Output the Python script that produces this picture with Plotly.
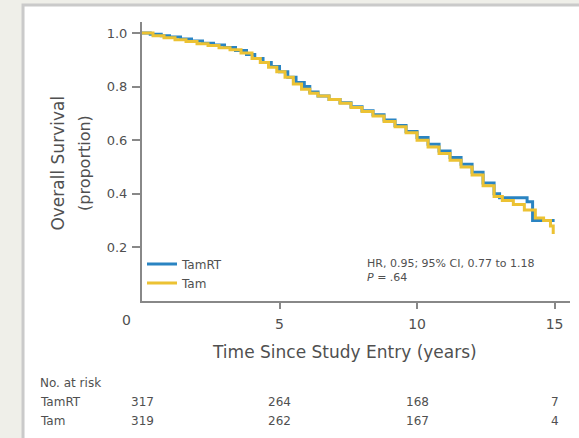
import plotly.graph_objects as go

# ---- data ----
tamrt_t = [0, 0.3, 0.7, 1.0, 1.4, 1.8, 2.2, 2.6, 3.0, 3.4, 3.8, 4.1, 4.4, 4.7, 5.0, 5.3, 5.6, 5.9,
           6.1, 6.4, 6.8, 7.2, 7.6, 8.0, 8.4, 8.8, 9.2, 9.6, 10.0, 10.4, 10.8, 11.2, 11.6, 12.0,
           12.4, 12.8, 13.0, 13.6, 14.0, 14.2, 14.5, 15.0]
tamrt_s = [1.0, 0.995, 0.99, 0.985, 0.978, 0.97, 0.962, 0.955, 0.946, 0.935, 0.92, 0.905, 0.89, 0.875,
           0.855, 0.835, 0.815, 0.80, 0.78, 0.765, 0.752, 0.74, 0.725, 0.71, 0.695, 0.675, 0.655,
           0.632, 0.61, 0.585, 0.56, 0.535, 0.51, 0.48, 0.44, 0.40, 0.385, 0.385, 0.37, 0.30, 0.30, 0.30]

tam_t = [0, 0.4, 0.8, 1.2, 1.6, 2.0, 2.4, 2.8, 3.2, 3.6, 4.0, 4.3, 4.6, 4.9, 5.2, 5.5, 5.8, 6.1,
         6.4, 6.8, 7.2, 7.6, 8.0, 8.4, 8.8, 9.2, 9.6, 10.0, 10.4, 10.8, 11.2, 11.6, 12.0, 12.4,
         12.8, 13.1, 13.5, 13.9, 14.3, 14.6, 14.85, 14.95]
tam_s = [1.0, 0.99, 0.982, 0.975, 0.968, 0.96, 0.953, 0.945, 0.937, 0.925, 0.905, 0.89, 0.872, 0.855,
         0.835, 0.81, 0.79, 0.775, 0.765, 0.752, 0.738, 0.722, 0.707, 0.69, 0.67, 0.65, 0.628, 0.60,
         0.575, 0.55, 0.525, 0.50, 0.47, 0.43, 0.39, 0.375, 0.36, 0.34, 0.31, 0.30, 0.28, 0.25]

x_ticks = [5, 10, 15]
x_tick_labels = ["5", "10", "15"]
zero_label = "0"
y_ticks = [0.2, 0.4, 0.6, 0.8, 1.0]
y_tick_labels = ["0.2", "0.4", "0.6", "0.8", "1.0"]

risk_times = [0, 5, 10, 15]
risk_tamrt = [317, 264, 168, 7]
risk_tam = [319, 262, 167, 4]
series_names = ["TamRT", "Tam"]

FONT = "DejaVu Sans, Liberation Sans, sans-serif"
TXT = "#505050"
BLUE = "#2a84c2"
YELLOW = "#ecc233"

fig = go.Figure()
fig.add_trace(go.Scatter(x=tamrt_t, y=tamrt_s, mode="lines", line_shape="hv",
                         line=dict(color=BLUE, width=3), name=series_names[0]))
fig.add_trace(go.Scatter(x=tam_t, y=tam_s, mode="lines", line_shape="hv",
                         line=dict(color=YELLOW, width=3), name=series_names[1]))

# white panel with grey border
fig.add_shape(type="rect", xref="paper", yref="paper", x0=-0.278, x1=1.06, y0=-0.7, y1=1.061,
              line=dict(color="#cacaca", width=3), fillcolor="white", layer="below")


def note(text, x, y, xref="paper", yref="paper", size=12, xanchor="center", **kw):
    return dict(text=text, x=x, y=y, xref=xref, yref=yref, xanchor=xanchor, yanchor="middle",
                showarrow=False, font=dict(size=size, color=TXT, family=FONT), **kw)


ann = [
    note(zero_label, -0.037, -0.068, size=14),
    note("Time Since Study Entry (years)", 0.472, -0.183, size=17),
    note("Overall Survival", -0.197, 0.495, size=17, textangle=-90),
    note("(proportion)", -0.133, 0.495, size=16, textangle=-90),
    note("HR, 0.95; 95% CI, 0.77 to 1.18<br><i>P</i> = .64", 8.1, 0.114, xref="x", yref="y",
         size=11, xanchor="left", align="left"),
    note("No. at risk", -0.243, -0.294, xanchor="left"),
    note(series_names[0], -0.243, -0.362, xanchor="left"),
    note(series_names[1], -0.243, -0.430, xanchor="left"),
]
for t, a, b in zip(risk_times, risk_tamrt, risk_tam):
    ann.append(note(str(a), t, -0.362, xref="x"))
    ann.append(note(str(b), t, -0.430, xref="x"))

fig.update_layout(
    width=579, height=438,
    margin=dict(l=142, r=9, t=22, b=137, autoexpand=False),
    paper_bgcolor="#efefe9", plot_bgcolor="rgba(0,0,0,0)",
    font=dict(family=FONT, color=TXT),
    showlegend=True,
    legend=dict(x=0.0, y=0.185, xanchor="left", yanchor="top", bgcolor="rgba(0,0,0,0)",
                font=dict(size=12, color=TXT, family=FONT), tracegroupgap=0, itemwidth=30),
    annotations=ann,
)
fig.update_xaxes(range=[0, 15.56], tickvals=x_ticks, ticktext=x_tick_labels, showgrid=False,
                 zeroline=False, showline=True, linecolor="#888888", linewidth=2, automargin=False,
                 ticks="outside", ticklen=6, tickcolor="#888888", tickwidth=1.5,
                 tickfont=dict(size=14, color=TXT, family=FONT), ticklabelstandoff=3)
fig.update_yaxes(range=[0, 1.041], tickvals=y_ticks, ticktext=y_tick_labels, showgrid=False,
                 zeroline=False, showline=True, linecolor="#888888", linewidth=2, automargin=False,
                 ticks="outside", ticklen=8, tickcolor="#888888", tickwidth=1.5,
                 tickfont=dict(size=13, color=TXT, family=FONT), ticklabelstandoff=2)

fig.write_html("out.html", config={"displayModeBar": False},
               post_script="document.body.style.margin='0';document.body.style.background='#efefe9';")
